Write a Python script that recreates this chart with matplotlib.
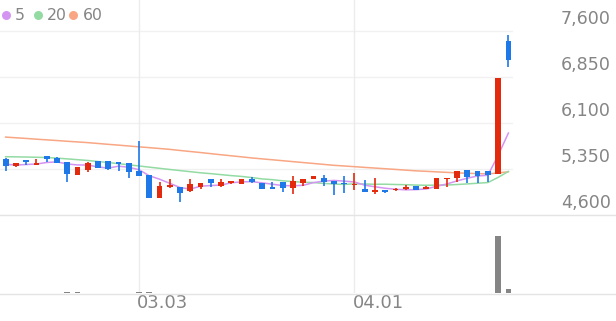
import numpy as np
import matplotlib.pyplot as plt
from matplotlib.lines import Line2D

plt.rcParams['font.family'] = ['DejaVu Sans']

# daily candles, oldest first (KRW)
opens = [5520, 5400, 5500, 5420, 5560, 5530, 5460, 5250, 5330, 5480,
         5480, 5470, 5440, 5310, 5250, 4880, 5050, 5050, 4990, 5060,
         5180, 5080, 5120, 5110, 5190, 5120, 5050, 5130, 5040, 5120,
         5180, 5200, 5150, 5120, 5090, 5020, 4980, 5010, 5000, 5030,
         5070, 5030, 5020, 5180, 5200, 5330, 5310, 5310, 5270, 7440]
highs = [5530, 5450, 5500, 5520, 5560, 5540, 5460, 5390, 5460, 5480,
         5480, 5470, 5440, 5810, 5260, 5130, 5180, 5050, 5180, 5120,
         5180, 5180, 5160, 5190, 5220, 5120, 5140, 5130, 5240, 5180,
         5240, 5250, 5150, 5240, 5290, 5170, 5210, 5010, 5040, 5090,
         5070, 5070, 5200, 5210, 5310, 5330, 5310, 5310, 6830, 7530]
lows = [5310, 5380, 5410, 5420, 5460, 5440, 5140, 5250, 5300, 5370,
        5340, 5320, 5210, 5230, 4870, 4880, 5040, 4810, 4980, 5020,
        5060, 5050, 5110, 5100, 5120, 5020, 5020, 4980, 4950, 5080,
        5180, 5070, 4930, 4960, 5010, 4980, 4950, 4960, 4990, 5010,
        5000, 5030, 5020, 5060, 5140, 5120, 5120, 5130, 5270, 7020]
closes = [5400, 5440, 5470, 5450, 5520, 5450, 5270, 5390, 5440, 5370,
          5350, 5430, 5300, 5240, 4880, 5070, 5090, 4960, 5110, 5120,
          5120, 5130, 5150, 5180, 5140, 5020, 5020, 5040, 5160, 5180,
          5240, 5140, 5100, 5100, 5110, 4980, 5010, 4980, 5020, 5060,
          5000, 5060, 5200, 5210, 5310, 5220, 5240, 5260, 6830, 7130]
volume = [40000, 30000, 25000, 20000, 35000, 30000, 150000, 120000, 50000, 40000,
          30000, 25000, 50000, 160000, 180000, 60000, 40000, 45000, 35000, 25000,
          20000, 20000, 15000, 20000, 25000, 30000, 20000, 25000, 40000, 30000,
          35000, 30000, 40000, 25000, 35000, 30000, 30000, 20000, 15000, 20000,
          25000, 20000, 50000, 40000, 60000, 50000, 30000, 40000, 12300000, 850000]

# moving averages
ma5 = [5427, 5415, 5423, 5431, 5456, 5466, 5432, 5416, 5414, 5384,
       5364, 5396, 5378, 5338, 5240, 5184, 5116, 5048, 5022, 5070,
       5080, 5088, 5126, 5140, 5144, 5124, 5102, 5080, 5076, 5084,
       5128, 5152, 5164, 5152, 5138, 5086, 5060, 5036, 5020, 5010,
       5014, 5024, 5068, 5106, 5156, 5200, 5236, 5248, 5572, 5936]
ma20 = [5550, 5548, 5545, 5541, 5537, 5527, 5515, 5502, 5489, 5472,
        5455, 5437, 5418, 5399, 5380, 5361, 5342, 5324, 5306, 5288,
        5274, 5258, 5242, 5229, 5210, 5188, 5176, 5158, 5144, 5135,
        5129, 5115, 5105, 5098, 5109, 5105, 5101, 5102, 5097, 5094,
        5088, 5085, 5087, 5089, 5097, 5107, 5118, 5129, 5213, 5310]
ma60 = [5870, 5859, 5848, 5836, 5825, 5814, 5802, 5791, 5780, 5766,
        5752, 5739, 5725, 5711, 5698, 5684, 5670, 5652, 5635, 5618,
        5600, 5582, 5565, 5548, 5530, 5515, 5500, 5485, 5470, 5455,
        5440, 5425, 5410, 5399, 5388, 5376, 5365, 5354, 5343, 5331,
        5320, 5312, 5303, 5295, 5287, 5280, 5275, 5270, 5285, 5305]

tick_idx = [13, 34]
tick_labels = ['03.03', '04.01']
price_ticks = [4600, 5350, 6100, 6850, 7600]

up_col = '#e22a0c'
down_col = '#1e78e8'
vol_col = '#858585'
ma_cols = {'5': '#d394f2', '20': '#93dba3', '60': '#f8a683'}
txt_col = '#858585'

W, H = 616, 321
fig = plt.figure(figsize=(W / 100, H / 100), dpi=100)
ax = fig.add_axes([0, 1 - 215 / H, 513 / W, 215 / H])
axv = fig.add_axes([0, 1 - 293 / H, 513 / W, 78 / H], sharex=ax)

for a in (ax, axv):
    for s in a.spines.values():
        s.set_visible(False)
    a.set_xticks([])
    a.set_yticks([])
    a.patch.set_alpha(0)

x = np.arange(len(closes))
o = np.array(opens)
c = np.array(closes)
col = np.where(c >= o, up_col, down_col)

ax.set_xlim(-0.55, len(x) - 0.55)
ax.set_ylim(4600, 8105)
axv.set_ylim(0, max(volume) * 78 / 57)

for p in price_ticks[1:]:
    ax.axhline(p, color='#f1f1f1', lw=1, zorder=0)
for t in tick_idx:
    ax.axvline(t, color='#ececec', lw=1, zorder=0)
    axv.axvline(t, color='#ececec', lw=1, zorder=0)

ax.plot(x, ma60, color=ma_cols['60'], lw=1.1, zorder=2)
ax.plot(x, ma20, color=ma_cols['20'], lw=1.1, zorder=2)
ax.plot(x, ma5, color=ma_cols['5'], lw=1.1, zorder=2)

body_b = np.minimum(o, c)
body_h = np.maximum(np.abs(c - o), 18)
ax.vlines(x, lows, highs, colors=col, lw=1.2, zorder=3)
ax.bar(x, body_h, bottom=body_b, width=0.56, color=col, lw=0, zorder=4)

axv.bar(x, volume, width=0.56, color=vol_col, lw=0, zorder=3)

# separators
for yy in (214.5, 293.5):
    fig.add_artist(Line2D([0, 1], [1 - yy / H] * 2, transform=fig.transFigure,
                          color='#e4e4e4', lw=1))

# price labels sit above their gridline
for p in price_ticks:
    ax.annotate(f'{p:,}', xy=(611 / W, p), xycoords=('figure fraction', 'data'),
                xytext=(0, 8.3), textcoords='offset points', ha='right', va='center',
                fontsize=12.6, color=txt_col, annotation_clip=False)

for t, lab in zip(tick_idx, tick_labels):
    axv.annotate(lab, xy=(t, 0), xycoords=('data', 'axes fraction'),
                 xytext=(-1.5, -7.3), textcoords='offset points', ha='left', va='center',
                 fontsize=13, color=txt_col, annotation_clip=False)

# legend on a pixel overlay
lg = fig.add_axes([0, 0, 1, 1])
lg.set_xlim(0, W)
lg.set_ylim(H, 0)
lg.axis('off')
leg_x = [5.7, 37.5, 73.3]
for lx, (name, cc) in zip(leg_x, ma_cols.items()):
    lg.scatter([lx], [15], s=42, color=cc, lw=0)
    lg.text(lx + 9.5, 15, name, fontsize=11.3, color=txt_col, ha='left', va='center')

fig.savefig('out.png', dpi=100, facecolor='white')
